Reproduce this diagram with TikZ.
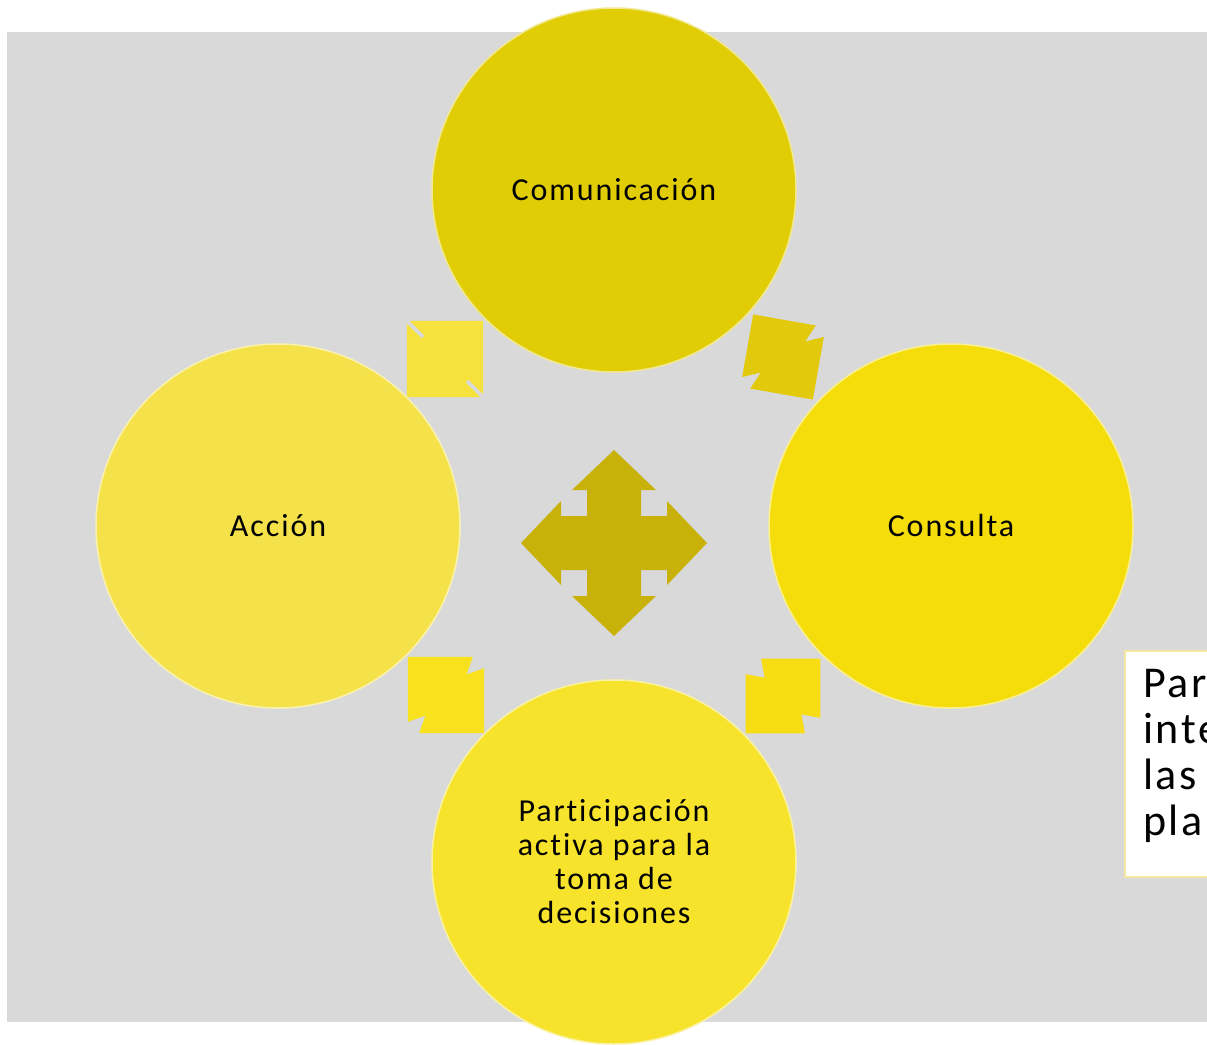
\documentclass[tikz,border=0pt]{standalone}
\usepackage{fontspec}
\setmainfont{Carlito}
\newfontfamily\lblfont{Carlito}[LetterSpace=6,Ligatures=NoCommon]
\definecolor{bggray}{HTML}{D9D9D9}
\definecolor{ccom}{HTML}{E1CD06}
\definecolor{ccon}{HTML}{F5DD0C}
\definecolor{cacc}{HTML}{F5E149}
\definecolor{cpar}{HTML}{F7E32B}
\definecolor{cquad}{HTML}{C8B20A}
\definecolor{aone}{HTML}{F5E23C}
\definecolor{atwo}{HTML}{E2C90C}
\definecolor{athree}{HTML}{F8E21E}
\definecolor{afour}{HTML}{F7DE14}
\definecolor{boxline}{HTML}{F3E7A2}
\newcommand{\myDblArrow}[6]{%
  \fill[#6, shift={#1}, rotate=#2] (#3,0) -- (#4,{#3-#4}) -- (0,#5) -- (-#4,{#3-#4}) -- (-#3,0) -- (-#4,{-#3+#4}) -- (0,-#5) -- (#4,{-#3+#4}) -- cycle;}
\newcommand{\mySlotArrow}[6]{%
  \fill[#6, shift={#1}, rotate=#2] (#3,0) -- (#4,{#3-#4}) -- (#4,#5) -- (-#4,#5) -- (-#4,{#3-#4}) -- (-#3,0) -- (-#4,{-#3+#4}) -- (-#4,-#5) -- (#4,-#5) -- (#4,{-#3+#4}) -- cycle;}
\begin{document}
\begin{tikzpicture}[x=1pt,y=-1pt,
  bubble/.style={circle, minimum size=364pt, inner sep=0pt, fill=#1, draw=#1!45!white, line width=1.5pt,
    align=center, text=black, font=\lblfont\fontsize{32}{34}\selectfont},
  sidetext/.style={anchor=base west, inner sep=0pt, text=black, font=\lblfont\fontsize{44}{46}\selectfont}
]
\useasboundingbox (0,0) rectangle (1207,1044);
\clip (0,0) rectangle (1207,1044);
\fill[bggray] (7,32) rectangle (1207,1022);

% side box
\draw[boxline, fill=white, line width=1.5pt] (1125,651) rectangle (1240,877);
\node[sidetext] (t1) at (1143,697) {Par};
\node[sidetext] (t2) at (1143,743) {inte};
\node[sidetext] (t3) at (1143,789) {las};
\node[sidetext] (t4) at (1143,835) {pla};

% small double arrows
\mySlotArrow{(445,359)}{45}{54}{2}{31}{aone}
\myDblArrow{(783,357)}{-55}{52}{7}{27}{atwo}
\myDblArrow{(446,695)}{-45}{54}{8}{29}{athree}
\myDblArrow{(783,696)}{45}{53}{11}{26}{afour}

% central quad arrow
\fill[cquad, shift={(614,543)}] (0,-93) -- (42,-53) -- (27,-53) -- (27,-27) -- (53,-27) -- (53,-42) -- (93,0)
  -- (53,42) -- (53,27) -- (27,27) -- (27,53) -- (42,53) -- (0,93)
  -- (-42,53) -- (-27,53) -- (-27,27) -- (-53,27) -- (-53,42) -- (-93,0)
  -- (-53,-42) -- (-53,-27) -- (-27,-27) -- (-27,-53) -- (-42,-53) -- cycle;

% circles
\node[bubble=ccom] (com) at (614,190) {Comunicación};
\node[bubble=ccon] (con) at (951,526) {Consulta};
\node[bubble=cacc] (acc) at (278,526) {Acción};
\node[bubble=cpar] (par) at (614,862) {Participación\\activa para la\\toma de\\decisiones};
\end{tikzpicture}
\end{document}
